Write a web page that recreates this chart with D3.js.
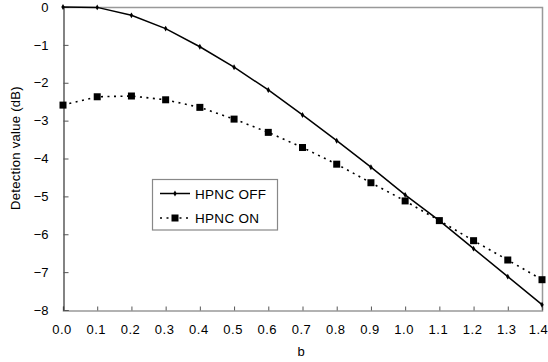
<!DOCTYPE html>
<html>
<head>
<meta charset="utf-8">
<script src="https://cdn.jsdelivr.net/npm/d3@7"></script>
<style>
  html, body { margin: 0; padding: 0; background: #fff; }
  svg { display: block; font-family: "Liberation Sans", Arial, sans-serif; }
</style>
</head>
<body>
<svg id="chart" width="548" height="362"></svg>
<script>
// b values along the x axis
const bValues = [0.0, 0.1, 0.2, 0.3, 0.4, 0.5, 0.6, 0.7, 0.8, 0.9, 1.0, 1.1, 1.2, 1.3, 1.4];
// Detection value (dB), noise cancelling off
const hpncOff = [0, -0.01, -0.22, -0.57, -1.05, -1.59, -2.19, -2.85, -3.53, -4.23, -4.96, -5.64, -6.38, -7.12, -7.86];
// Detection value (dB), noise cancelling on
const hpncOn = [-2.59, -2.37, -2.35, -2.45, -2.65, -2.96, -3.31, -3.71, -4.15, -4.64, -5.12, -5.64, -6.17, -6.68, -7.2];
const xTicks = [0.0, 0.1, 0.2, 0.3, 0.4, 0.5, 0.6, 0.7, 0.8, 0.9, 1.0, 1.1, 1.2, 1.3, 1.4];
const yTicks = [0, -1, -2, -3, -4, -5, -6, -7, -8];
const seriesNames = ["HPNC OFF", "HPNC ON"];

const svg = d3.select("#chart");
const plot = { left: 63, right: 542, top: 7, bottom: 310 };

const x = d3.scaleLinear().domain([0, 1.4]).range([plot.left, plot.right]);
const y = d3.scaleLinear().domain([-8, 0]).range([plot.bottom, plot.top]);

// frame: top and right edges
svg.append("path")
  .attr("d", `M${plot.left},${plot.top + 0.5}H${plot.right + 0.5}V${plot.bottom}`)
  .attr("fill", "none").attr("stroke", "#999").attr("stroke-width", 1.5);

// x axis
const xAxis = svg.append("g")
  .attr("transform", `translate(0,${plot.bottom + 0.5})`)
  .call(d3.axisBottom(x).tickValues(xTicks).tickSize(-4).tickPadding(14)
    .tickFormat(d3.format(".1f")));
xAxis.select(".domain").attr("stroke", "#999").attr("stroke-width", 1.5);
xAxis.selectAll(".tick line").attr("stroke", "#555");
xAxis.selectAll(".tick text").attr("font-size", 13).attr("fill", "#000")
  .attr("font-family", "Liberation Sans, Arial, sans-serif")
  .attr("dx", (d, i) => i === xTicks.length - 1 ? -4 : -1.5)
  .attr("letter-spacing", 0.5);

// y axis
const yAxis = svg.append("g")
  .attr("transform", `translate(${plot.left + 0.5},0)`)
  .call(d3.axisLeft(y).tickValues(yTicks).tickSize(-5).tickPadding(15)
    .tickFormat(d => d === 0 ? "0" : "\u2212" + Math.abs(d)));
yAxis.select(".domain").attr("stroke", "#333").attr("stroke-width", 1.2);
yAxis.selectAll(".tick line").attr("stroke", "#555");
yAxis.selectAll(".tick text").attr("font-size", 13).attr("fill", "#000")
  .attr("font-family", "Liberation Sans, Arial, sans-serif");

// axis titles
svg.append("text").attr("x", 301).attr("y", 356)
  .attr("text-anchor", "middle").attr("font-size", 13).text("b");
svg.append("text")
  .attr("transform", `translate(19.5,148) rotate(-90)`)
  .attr("text-anchor", "middle").attr("font-size", 13).attr("letter-spacing", 0.3)
  .text("Detection value (dB)");

const line = d3.line().x(d => x(d[0])).y(d => y(d[1]));
const offPts = bValues.map((b, i) => [b, hpncOff[i]]);
const onPts = bValues.map((b, i) => [b, hpncOn[i]]);

// HPNC ON: dotted line with square markers
svg.append("path").datum(onPts).attr("d", line)
  .attr("fill", "none").attr("stroke", "#000").attr("stroke-width", 1.6)
  .attr("stroke-dasharray", "2,4.5");
svg.selectAll("rect.on").data(onPts).join("rect").attr("class", "on")
  .attr("x", d => x(d[0]) - 3.5).attr("y", d => y(d[1]) - 3.5)
  .attr("width", 7).attr("height", 7).attr("fill", "#000");

// HPNC OFF: solid line with small point markers
svg.append("path").datum(offPts).attr("d", line)
  .attr("fill", "none").attr("stroke", "#000").attr("stroke-width", 1.5);
svg.selectAll("path.off").data(offPts).join("path").attr("class", "off")
  .attr("transform", d => `translate(${x(d[0])},${y(d[1])})`)
  .attr("d", d3.symbol(d3.symbolDiamond, 10)).attr("fill", "#000");

// legend
const lg = svg.append("g");
lg.append("rect").attr("x", 152.5).attr("y", 179.5).attr("width", 125).attr("height", 50.5)
  .attr("fill", "#fff").attr("stroke", "#888").attr("stroke-width", 1.2);
const legendRows = [
  { name: seriesNames[0], yy: 193.5, dash: null },
  { name: seriesNames[1], yy: 218, dash: "2,4.5" }
];
legendRows.forEach((r, i) => {
  lg.append("line").attr("x1", 160).attr("x2", 190).attr("y1", r.yy).attr("y2", r.yy)
    .attr("stroke", "#000").attr("stroke-width", 1.5)
    .attr("stroke-dasharray", r.dash);
  if (i === 0) {
    lg.append("path").attr("transform", `translate(175,${r.yy})`)
      .attr("d", d3.symbol(d3.symbolDiamond, 10)).attr("fill", "#000");
  } else {
    lg.append("rect").attr("x", 171.5).attr("y", r.yy - 3.5).attr("width", 7).attr("height", 7)
      .attr("fill", "#000");
  }
  lg.append("text").attr("x", 195).attr("y", r.yy + 5).attr("font-size", 13.5)
    .attr("letter-spacing", 0.3).text(r.name);
});
</script>
</body>
</html>
